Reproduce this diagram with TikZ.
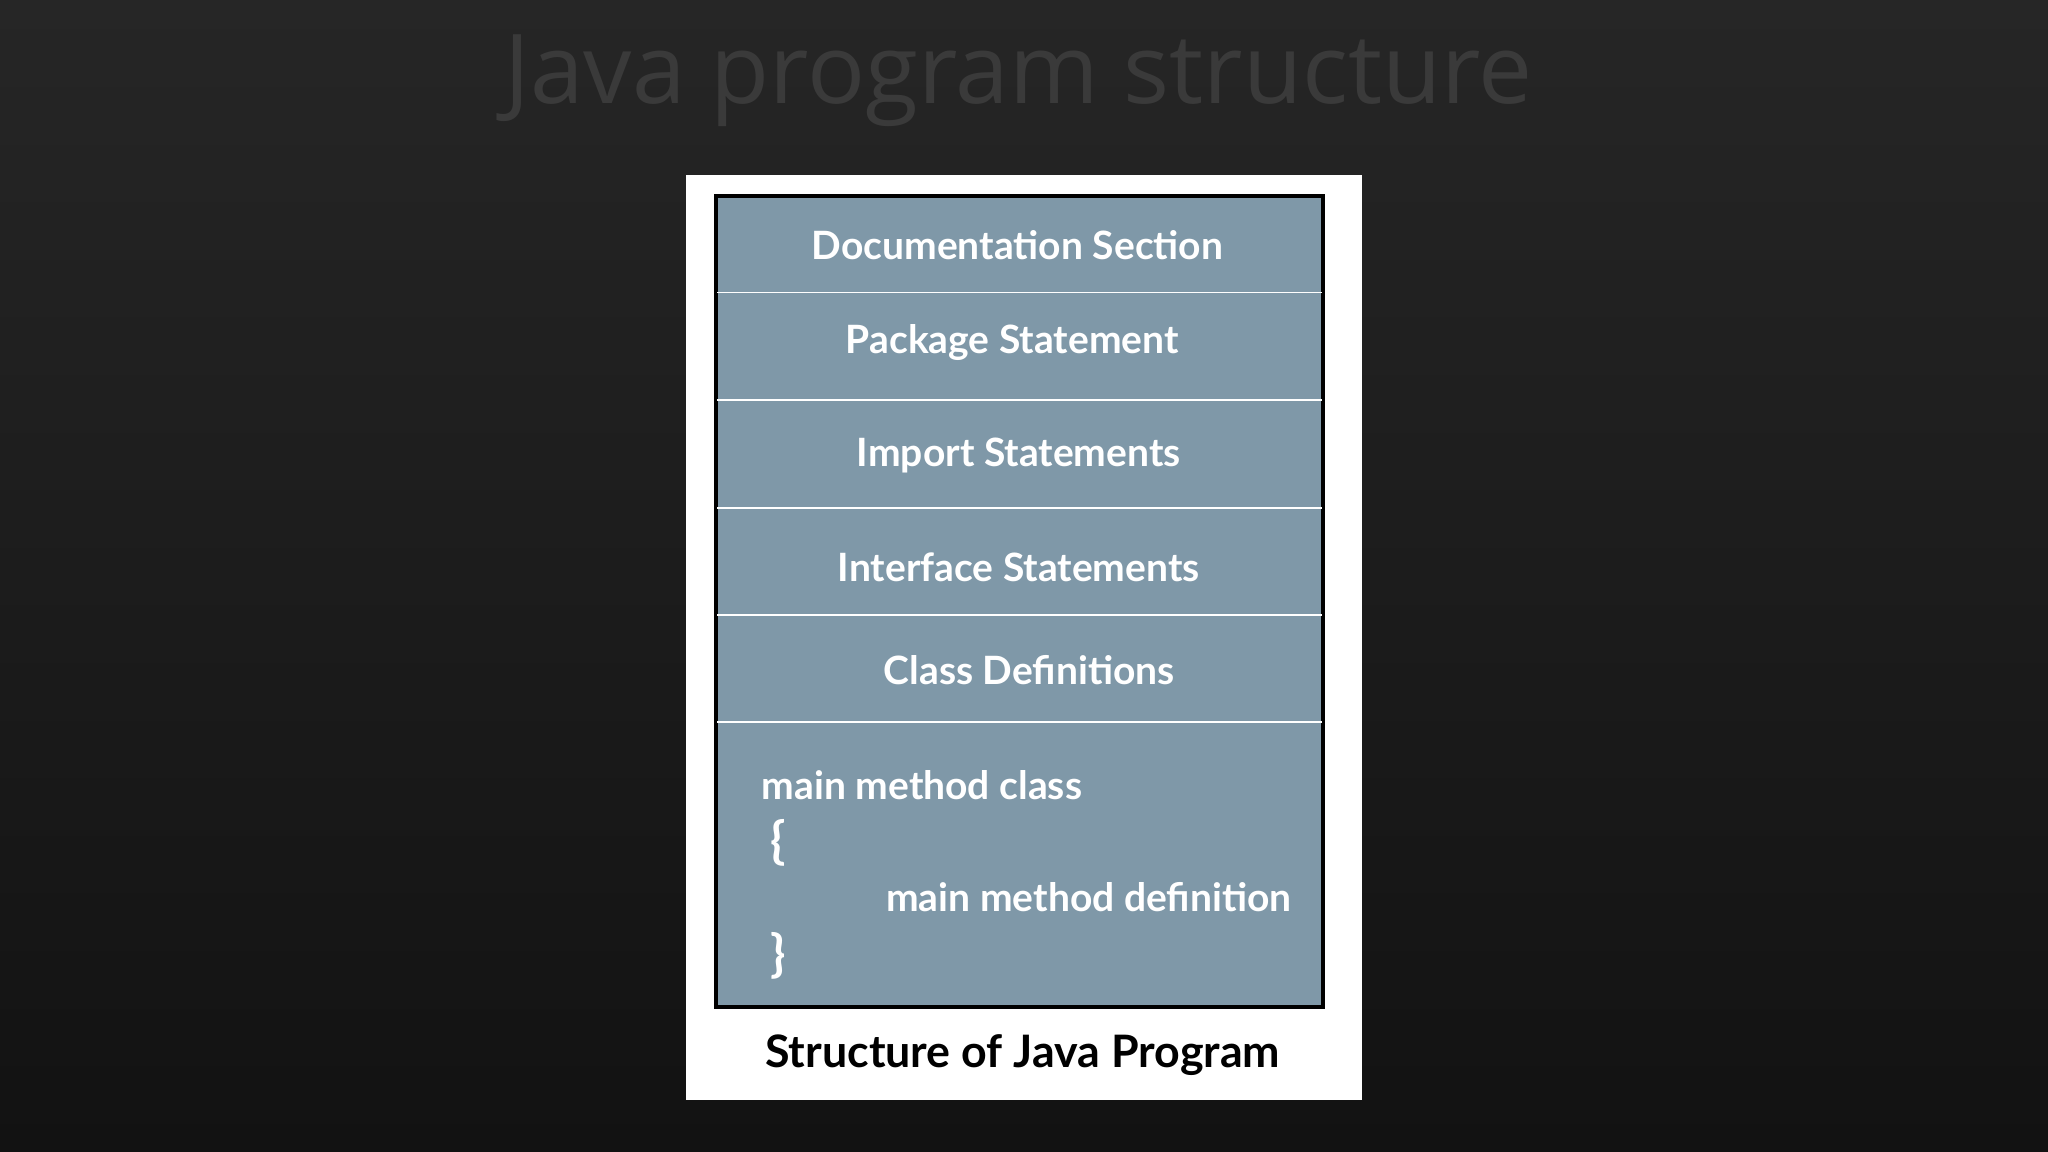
\documentclass[tikz,border=0pt]{standalone}
\usepackage{fontspec}
\setmainfont{Lato}
\newfontfamily\titlefont{Open Sans}
\definecolor{bgtop}{HTML}{262626}
\definecolor{bgbot}{HTML}{121212}
\definecolor{panel}{HTML}{7F98A8}
\definecolor{titlec}{HTML}{3A3A3A}
\tikzset{
  sec/.style={text=white,font=\bfseries\fontsize{17}{20}\selectfont},
  divider/.style={draw=white,line width=0.8pt},
}
\begin{document}
\begin{tikzpicture}[x=0.02cm,y=-0.02cm]
\shade[top color=bgtop,bottom color=bgbot] (0,0) rectangle (1568,882);
\useasboundingbox (0,0) rectangle (1568,882);
\node[text=titlec,font=\titlefont\fontsize{42}{48}\selectfont] (title) at (780,62) {Java program structure};
\fill[white] (525,134) rectangle (1043,842);
\filldraw[fill=panel,draw=black,line width=1.8pt] (548,150) rectangle (1013,771);
\foreach \y in {224,306,389,471,553} \draw[divider] (549,\y) -- (1012,\y);
\node[sec] (doc) at (779,188) {Documentation Section};
\node[sec] (pkg) at (775,262) {Package Statement};
\node[sec] (imp) at (780,349) {Import Statements};
\node[sec] (int) at (780,434) {Interface Statements};
\node[sec] (cls) at (788,513) {Class Definitions};
\node[sec,anchor=west] (mmc) at (577,601) {main method class};
\node[sec,anchor=west,font=\bfseries\fontsize{22}{24}\selectfont] (ob) at (584,645) {\{};
\node[sec,anchor=east] (mmd) at (995,687) {main method definition};
\node[sec,anchor=west,font=\bfseries\fontsize{22}{24}\selectfont] (cb) at (584,732) {\}};
\node[text=black,font=\bfseries\fontsize{19.5}{22}\selectfont] (cap) at (783,808) {Structure of Java Program};
\end{tikzpicture}
\end{document}
